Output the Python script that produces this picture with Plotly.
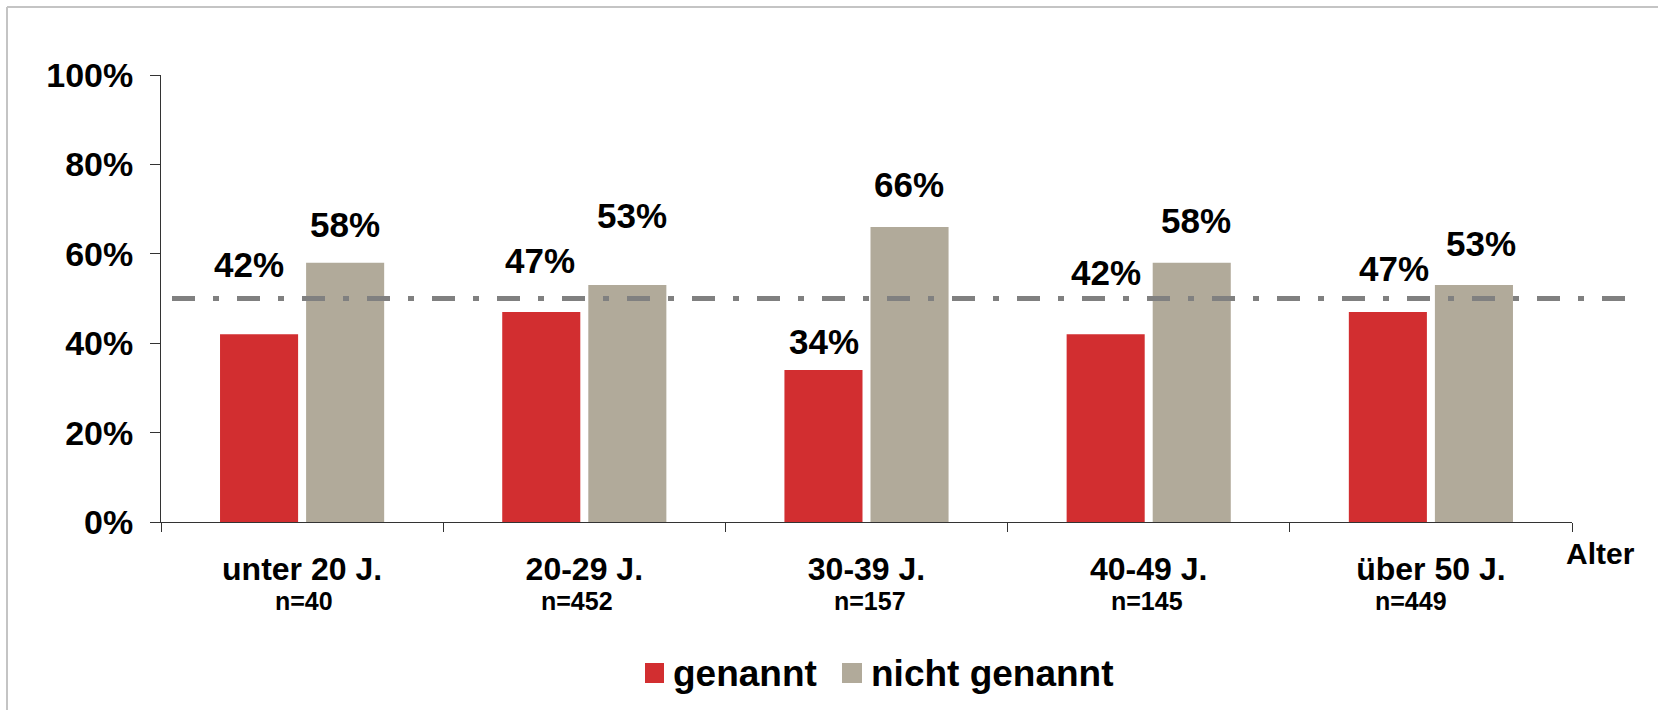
import plotly.graph_objects as go

# Age groups, sample sizes and shares (in percent)
categories = ["unter 20 J.", "20-29 J.", "30-39 J.", "40-49 J.", "über 50 J."]
sample_sizes = ["n=40", "n=452", "n=157", "n=145", "n=449"]
genannt = [42, 47, 34, 42, 47]
nicht_genannt = [58, 53, 66, 58, 53]
reference_line = 50
y_ticks = [0, 20, 40, 60, 80, 100]

# Label placement (pixel offsets from the bar top / bar centre)
red_label_dy = [70, 51, 29, 62, 43]
red_label_dx = [-10, -1, 1, 0, 6]
gray_label_dy = [38, 70, 42, 42, 42]
gray_label_dx = [0, 5, -1, 4, 7]
n_label_dx = [2, -7, 3, -2, -20]

W, H = 1658, 710
L, R, T, B = 161, 86, 75, 188
PW, PH = W - L - R, H - T - B

RED = "#D22E30"
GRAY = "#B1AA9A"
FONT = "Liberation Sans, Arial, sans-serif"


def px(x):
    return (x - L) / PW


def py(y):
    return (H - B - y) / PH


fig = go.Figure()
fig.add_trace(go.Bar(x=categories, y=genannt, name="genannt",
                     marker=dict(color=RED, line=dict(width=0)), showlegend=False))
fig.add_trace(go.Bar(x=categories, y=nicht_genannt, name="nicht genannt",
                     marker=dict(color=GRAY, line=dict(width=0)), showlegend=False))

slot = PW / len(categories) * (1 - 0.39) / 2
annotations = []
for i, cat in enumerate(categories):
    annotations.append(dict(x=cat, y=genannt[i], xref="x", yref="y",
                            text=f"{genannt[i]}%", showarrow=False,
                            xshift=-slot / 2 + red_label_dx[i], yshift=red_label_dy[i],
                            yanchor="middle", xanchor="center",
                            font=dict(family=FONT, size=35, color="black", weight="bold")))
    annotations.append(dict(x=cat, y=nicht_genannt[i], xref="x", yref="y",
                            text=f"{nicht_genannt[i]}%", showarrow=False,
                            xshift=slot / 2 + gray_label_dx[i], yshift=gray_label_dy[i],
                            yanchor="middle", xanchor="center",
                            font=dict(family=FONT, size=35, color="black", weight="bold")))
    annotations.append(dict(x=cat, y=py(609), xref="x", yref="paper",
                            text=sample_sizes[i], showarrow=False,
                            xshift=n_label_dx[i], yanchor="bottom", xanchor="center",
                            yshift=-7, borderpad=0,
                            font=dict(family=FONT, size=25, color="black", weight="bold")))

# axis title at the right end of the category axis
annotations.append(dict(x=px(1601), y=py(553), xref="paper", yref="paper",
                        text="Alter", showarrow=False, xanchor="center", yanchor="middle",
                        font=dict(family=FONT, size=30, color="black", weight="bold")))

# legend entries
annotations.append(dict(x=px(671), y=py(673), xref="paper", yref="paper",
                        text="genannt", showarrow=False, xanchor="left", yanchor="middle",
                        font=dict(family=FONT, size=37, color="black", weight="bold")))
annotations.append(dict(x=px(869), y=py(673), xref="paper", yref="paper",
                        text="nicht genannt", showarrow=False, xanchor="left", yanchor="middle",
                        font=dict(family=FONT, size=37, color="black", weight="bold")))

shapes = [
    # 50 % reference line
    dict(type="line", xref="paper", yref="y", x0=px(172), x1=px(1639),
         y0=reference_line, y1=reference_line,
         line=dict(color="#808080", width=5, dash="23px,18px,6px,18px")),
    # legend swatches
    dict(type="rect", xref="paper", yref="paper", x0=px(645), x1=px(664),
         y0=py(683), y1=py(663), fillcolor=RED, line=dict(width=0)),
    dict(type="rect", xref="paper", yref="paper", x0=px(842), x1=px(862),
         y0=py(683), y1=py(663), fillcolor=GRAY, line=dict(width=0)),
    # frame at top and left
    dict(type="line", xref="paper", yref="paper", x0=px(7), x1=px(W + 5),
         y0=py(7), y1=py(7), line=dict(color="#C4C4C4", width=2)),
    dict(type="line", xref="paper", yref="paper", x0=px(7), x1=px(7),
         y0=py(7), y1=py(H + 5), line=dict(color="#C4C4C4", width=2)),
]

fig.update_layout(
    width=W, height=H,
    margin=dict(l=L, r=R, t=T, b=B, pad=0),
    paper_bgcolor="white", plot_bgcolor="white",
    barmode="group", bargap=0.39, bargroupgap=0.093,
    showlegend=False,
    annotations=annotations,
    shapes=shapes,
    xaxis=dict(type="category", range=[-0.5, len(categories) - 0.5],
               showline=True, linecolor="#333333", linewidth=1,
               ticks="outside", ticklen=9, tickcolor="#333333", tickwidth=1,
               tickson="boundaries", showgrid=False, zeroline=False,
               tickfont=dict(family=FONT, size=32, color="black", weight="bold"),
               ticklabelstandoff=19),
    yaxis=dict(range=[0, 100], tickvals=y_ticks,
               ticktext=[f"{v}%" for v in y_ticks],
               showline=True, linecolor="#333333", linewidth=1,
               ticks="outside", ticklen=10, tickcolor="#333333", tickwidth=1,
               showgrid=False, zeroline=False,
               tickfont=dict(family=FONT, size=34, color="black", weight="bold"),
               ticklabelstandoff=10),
)

fig.write_html("out.html")
